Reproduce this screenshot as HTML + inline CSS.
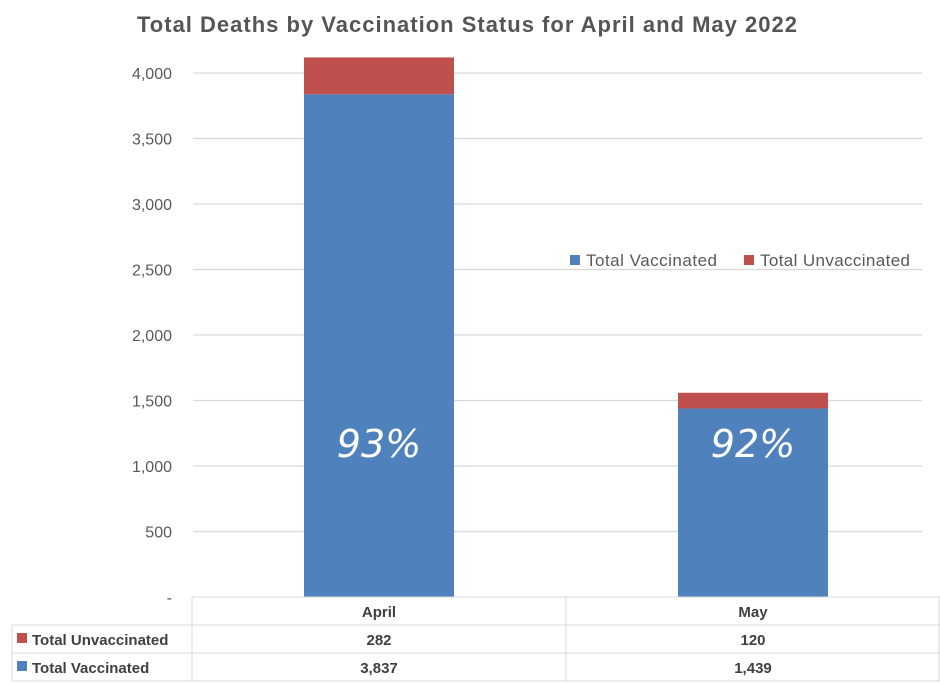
<!DOCTYPE html>
<html><head><meta charset="utf-8"><style>
html,body{margin:0;padding:0;background:#fff;}
svg{display:block;font-family:"Liberation Sans",Calibri,sans-serif;}
</style></head><body>
<svg id="chart" width="940" height="683" viewBox="0 0 940 683">
<rect x="0" y="0" width="940" height="683" fill="#fff"/>
<text x="467" y="32" text-anchor="middle" font-size="22" font-weight="bold" fill="#555" textLength="660" lengthAdjust="spacing">Total Deaths by Vaccination Status for April and May 2022</text>
<g id="grid"></g>
<g id="yticks"></g>
<g id="bars"></g>
<g>
  <rect x="570" y="255" width="10" height="10" fill="#4f81bd"/>
  <text x="586" y="266" font-size="17" fill="#595959" textLength="131" lengthAdjust="spacing">Total Vaccinated</text>
  <rect x="744" y="255" width="10" height="10" fill="#c0504d"/>
  <text x="760" y="266" font-size="17" fill="#595959" textLength="150" lengthAdjust="spacing">Total Unvaccinated</text>
</g>
<g id="table"></g>
</svg>
<script>
const categories = ["April", "May"];
const vaccinated = [3837, 1439];
const unvaccinated = [282, 120];
const percentLabels = ["93%", "92%"];
const yTicks = [0, 500, 1000, 1500, 2000, 2500, 3000, 3500, 4000];
const yTickLabels = ["-", "500", "1,000", "1,500", "2,000", "2,500", "3,000", "3,500", "4,000"];
const seriesNames = ["Total Unvaccinated", "Total Vaccinated"];

const NS = "http://www.w3.org/2000/svg";
const plotL = 193, plotR = 940, y0 = 597, yTop = 73, yMax = 4000;
const colW = (plotR - 192) / categories.length;
const barW = 150;
function y(v){ return y0 - v * (y0 - yTop) / yMax; }
function xc(i){ return 192 + colW * (i + 0.5); }
function fmt(v){ return v.toLocaleString("en-US"); }
function mk(tag, attrs, parent){ const e = document.createElementNS(NS, tag); for (const k in attrs) e.setAttribute(k, attrs[k]); parent.appendChild(e); return e; }

const grid = document.getElementById("grid"), yt = document.getElementById("yticks");
yTicks.forEach((t, i) => {
  if (t > 0) {
    const l = mk("line", {x1: plotL, x2: 922, y1: y(t), y2: y(t), stroke: "#d9d9d9", "stroke-width": 1.3}, grid);
    
    
  }
  const tx = mk("text", {x: 172, y: y(t) + 6, "text-anchor": "end", "font-size": 16, fill: "#595959"}, yt);
  tx.textContent = yTickLabels[i];
  
  
});

const bars = document.getElementById("bars");
categories.forEach((c, i) => {
  const x = xc(i) - barW / 2;
  const b1 = mk("rect", {x: x, y: y(vaccinated[i]), width: barW, height: y0 - y(vaccinated[i]), fill: "#4f81bd"}, bars);
  
  
  const top = vaccinated[i] + unvaccinated[i];
  const b2 = mk("rect", {x: x, y: y(top), width: barW, height: y(vaccinated[i]) - y(top), fill: "#c0504d"}, bars);
  
  
  const p = mk("text", {x: xc(i), y: 457, "text-anchor": "middle", "font-size": 38, "font-style": "italic", "font-family": "'DejaVu Sans', sans-serif", fill: "#fff"}, bars);
  p.textContent = percentLabels[i];
  
  
});

const tb = document.getElementById("table");
const bc = "#d9d9d9";
[[192, 597, 940, 597], [12, 625, 940, 625], [12, 653, 940, 653], [12, 681, 940, 681],
 [12, 625, 12, 681], [192, 597, 192, 681], [566, 597, 566, 681], [939, 597, 939, 681]].forEach(a => {
  const l = mk("line", {x1: a[0], y1: a[1], x2: a[2], y2: a[3], stroke: bc, "stroke-width": 1}, tb);
  
  
});
categories.forEach((c, i) => {
  const t = mk("text", {x: xc(i), y: 617, "text-anchor": "middle", "font-size": 15, "font-weight": "bold", fill: "#404040"}, tb);
  t.textContent = c;
  
  
  const u = mk("text", {x: xc(i), y: 645, "text-anchor": "middle", "font-size": 15, "font-weight": "bold", fill: "#404040"}, tb);
  u.textContent = fmt(unvaccinated[i]);
  
  
  const v = mk("text", {x: xc(i), y: 673, "text-anchor": "middle", "font-size": 15, "font-weight": "bold", fill: "#404040"}, tb);
  v.textContent = fmt(vaccinated[i]);
  
  
});
[["#c0504d", 645, 633], ["#4f81bd", 673, 661]].forEach((r, i) => {
  const s = mk("rect", {x: 17, y: r[2], width: 10, height: 10, fill: r[0]}, tb);
  
  
  const t = mk("text", {x: 32, y: r[1], "font-size": 15, "font-weight": "bold", fill: "#404040"}, tb);
  t.textContent = seriesNames[i];
  
  
});
</script>
</body></html>
